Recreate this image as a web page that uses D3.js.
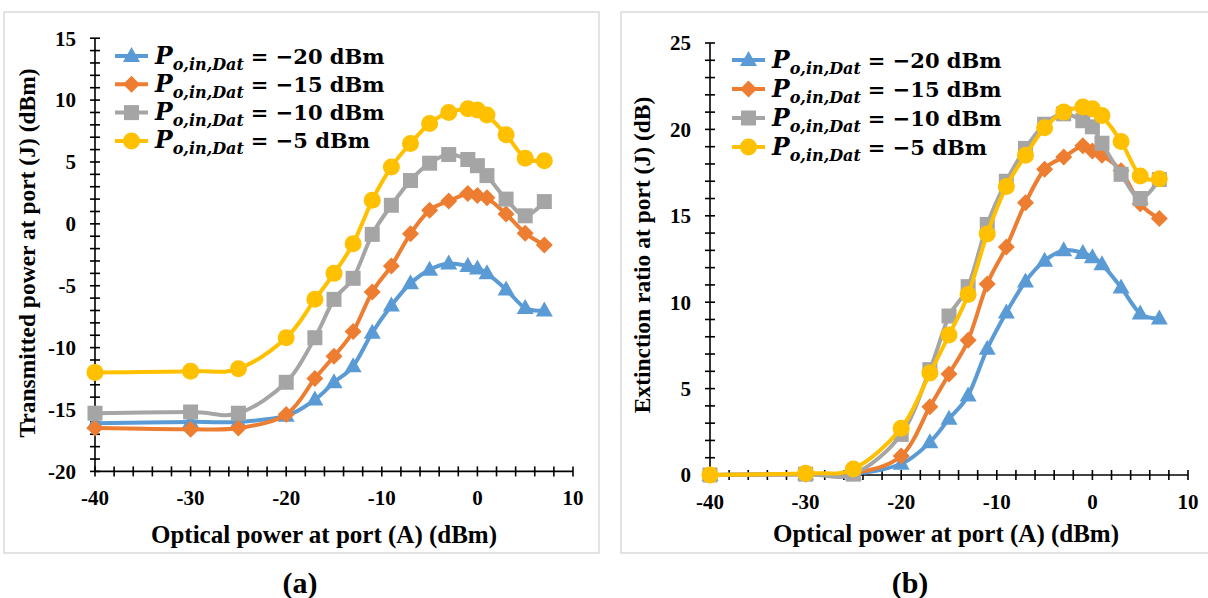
<!DOCTYPE html>
<html>
<head>
<meta charset="utf-8">
<script src="https://cdn.jsdelivr.net/npm/d3@7"></script>
<style>
  html, body { margin: 0; padding: 0; background: #fff; }
  svg { display: block; }
  text { font-family: "Liberation Serif", "Times New Roman", serif; font-weight: bold; fill: #000; }
  text.leg { font-family: "DejaVu Serif", serif; }
</style>
</head>
<body>
<svg id="chart" width="1208" height="598"></svg>
<script>
// ---------- data ----------
const xValues = [-40, -30, -25, -20, -17, -15, -13, -11, -9, -7, -5, -3, -1, 0, 1, 3, 5, 7];
const seriesLabels = ["\u221220 dBm", "\u221215 dBm", "\u221210 dBm", "\u22125 dBm"];
const seriesColors = ["#5B9BD5", "#ED7D31", "#A5A5A5", "#FFC000"];
const seriesMarkers = ["triangle", "diamond", "square", "circle"];

// (a) Transmitted power at port (J) (dBm)
const powerM20 = [-16.1, -16.0, -16.0, -15.5, -14.2, -12.8, -11.5, -8.8, -6.6, -4.8, -3.7, -3.2, -3.4, -3.6, -4.0, -5.3, -6.8, -7.0];
const powerM15 = [-16.5, -16.6, -16.5, -15.4, -12.5, -10.7, -8.7, -5.5, -3.4, -0.8, 1.1, 1.85, 2.45, 2.3, 2.1, 0.8, -0.75, -1.7];
const powerM10 = [-15.3, -15.2, -15.3, -12.8, -9.2, -6.1, -4.4, -0.85, 1.5, 3.5, 4.9, 5.6, 5.2, 4.7, 3.9, 2.0, 0.65, 1.8];
const powerM5  = [-12.0, -11.9, -11.7, -9.2, -6.1, -4.0, -1.6, 1.9, 4.6, 6.5, 8.1, 9.0, 9.3, 9.2, 8.8, 7.2, 5.3, 5.1];

// (b) Extinction ratio at port (J) (dB)
const erM20 = [0.0, 0.05, 0.05, 0.65, 1.9, 3.25, 4.6, 7.3, 9.4, 11.2, 12.4, 13.0, 12.85, 12.6, 12.2, 10.85, 9.35, 9.05];
const erM15 = [0.0, 0.05, 0.1, 1.1, 3.95, 5.85, 7.8, 11.05, 13.2, 15.75, 17.7, 18.4, 19.05, 18.75, 18.5, 17.6, 15.7, 14.85];
const erM10 = [0.0, 0.05, 0.05, 2.35, 6.1, 9.2, 10.9, 14.5, 17.0, 18.9, 20.3, 20.9, 20.5, 20.15, 19.2, 17.4, 16.0, 17.1];
const erM5  = [0.0, 0.1, 0.35, 2.7, 5.9, 8.1, 10.45, 13.95, 16.7, 18.5, 20.1, 21.0, 21.3, 21.2, 20.8, 19.3, 17.3, 17.15];

const xTicks = [-40, -30, -20, -10, 0, 10];
const yTicksA = [-20, -15, -10, -5, 0, 5, 10, 15];
const yTicksB = [0, 5, 10, 15, 20, 25];

const xTitle = "Optical power at port (A) (dBm)";
const yTitleA = "Transmitted power at port (J) (dBm)";
const yTitleB = "Extinction ratio at port (J) (dB)";

// ---------- drawing ----------
const svg = d3.select("#chart");

function markerPath(type) {
  const p = d3.path();
  if (type === "circle") { p.arc(0, 0, 8.5, 0, 2 * Math.PI); }
  else if (type === "square") { p.rect(-7.5, -7.5, 15, 15); }
  else if (type === "diamond") { p.moveTo(0, -8.5); p.lineTo(8.5, 0); p.lineTo(0, 8.5); p.lineTo(-8.5, 0); p.closePath(); }
  else { p.moveTo(0, -9); p.lineTo(8.5, 6); p.lineTo(-8.5, 6); p.closePath(); }
  return p.toString();
}

function drawPanel(cfg) {
  const g = svg.append("g");
  g.append("rect").attr("x", cfg.frame[0]).attr("y", cfg.frame[1])
    .attr("width", cfg.frame[2]).attr("height", cfg.frame[3])
    .attr("fill", "none").attr("stroke", "#d0d0d0").attr("stroke-width", 1.2);

  const x = d3.scaleLinear().domain([-40, 10]).range(cfg.xRange);
  const y = d3.scaleLinear().domain(cfg.yDomain).range(cfg.yRange);

  // x axis
  const xMinor = d3.range(-40, 10.01, 2);
  const xAxis = g.append("g").attr("transform", `translate(0,${y(cfg.yDomain[0])})`);
  xAxis.append("line").attr("x1", x(-40)).attr("x2", x(10)).attr("stroke", "#000").attr("stroke-width", 1.6);
  xAxis.selectAll("line.t").data(xMinor).join("line").attr("class", "t")
    .attr("x1", d => x(d)).attr("x2", d => x(d)).attr("y1", -5).attr("y2", 5)
    .attr("stroke", "#000").attr("stroke-width", 1.6);
  xAxis.selectAll("text").data(xTicks).join("text")
    .attr("x", d => x(d)).attr("y", cfg.xLabelDy).attr("text-anchor", "middle")
    .attr("font-size", 21).text(d => String(d));

  // y axis
  const yMinor = d3.range(cfg.yDomain[0], cfg.yDomain[1] + 0.01, 1);
  const yAxis = g.append("g").attr("transform", `translate(${x(-40)},0)`);
  yAxis.append("line").attr("y1", y(cfg.yDomain[0])).attr("y2", y(cfg.yDomain[1])).attr("stroke", "#000").attr("stroke-width", 1.6);
  yAxis.selectAll("line.t").data(yMinor).join("line").attr("class", "t")
    .attr("y1", d => y(d)).attr("y2", d => y(d)).attr("x1", -5).attr("x2", 5)
    .attr("stroke", "#000").attr("stroke-width", 1.6);
  yAxis.selectAll("text").data(cfg.yTicks).join("text")
    .attr("x", -19).attr("y", d => y(d)).attr("dy", "0.35em").attr("text-anchor", "end")
    .attr("font-size", 21).text(d => String(d));

  // titles
  g.append("text").attr("x", cfg.xTitlePos[0]).attr("y", cfg.xTitlePos[1])
    .attr("text-anchor", "middle").attr("font-size", 25).text(xTitle);
  g.append("text").attr("transform", `translate(${cfg.yTitlePos[0]},${cfg.yTitlePos[1]}) rotate(-90)`)
    .attr("text-anchor", "middle").attr("dy", "0.35em").attr("font-size", 23.5).text(cfg.yTitle);
  g.append("text").attr("x", cfg.panelLabel[0]).attr("y", cfg.panelLabel[1])
    .attr("text-anchor", "middle").attr("font-size", 30).text(cfg.panelText);

  // series
  const line = d3.line().x((d, i) => x(xValues[i])).y(d => y(d)).curve(d3.curveCardinal.tension(0));
  cfg.series.forEach((vals, si) => {
    const sg = g.append("g");
    sg.append("path").attr("d", line(vals)).attr("fill", "none")
      .attr("stroke", seriesColors[si]).attr("stroke-width", 4).attr("stroke-linejoin", "round");
    sg.selectAll("path.m").data(vals).join("path").attr("class", "m")
      .attr("d", markerPath(seriesMarkers[si]))
      .attr("transform", (d, i) => `translate(${x(xValues[i])},${y(d)})`)
      .attr("fill", seriesColors[si]);
  });

  // legend
  const lg = g.append("g");
  seriesLabels.forEach((lab, i) => {
    const cy = cfg.legend.y0 + i * cfg.legend.dy;
    const row = lg.append("g").attr("transform", `translate(${cfg.legend.x0},${cy})`);
    row.append("line").attr("x1", 0).attr("x2", 33).attr("stroke", seriesColors[i]).attr("stroke-width", 4);
    row.append("path").attr("d", markerPath(seriesMarkers[i])).attr("transform", "translate(16.5,0)").attr("fill", seriesColors[i]);
    const t = row.append("text").attr("class", "leg").attr("x", 40).attr("y", 7.5).attr("font-size", 21);
    t.append("tspan").attr("font-style", "italic").attr("font-size", 23.5).text("P");
    t.append("tspan").attr("font-style", "italic").attr("font-size", 16).attr("dy", 6).text("o,in,Dat");
    t.append("tspan").attr("dy", -6).attr("dx", 7).text("= " + lab);
  });
}

drawPanel({
  frame: [4, 12, 595, 541],
  xRange: [95, 573], yDomain: [-20, 15], yRange: [471.4, 38.2], yTicks: yTicksA,
  xLabelDy: 34, xTitlePos: [324, 543], yTitlePos: [27, 253], yTitle: yTitleA,
  panelLabel: [300, 593], panelText: "(a)",
  series: [powerM20, powerM15, powerM10, powerM5],
  legend: { x0: 115, y0: 56, dy: 28.3 }
});

drawPanel({
  frame: [621, 12, 600, 541],
  xRange: [710, 1188], yDomain: [0, 25], yRange: [475, 43], yTicks: yTicksB,
  xLabelDy: 34, xTitlePos: [946, 542], yTitlePos: [642, 255], yTitle: yTitleB,
  panelLabel: [910, 593], panelText: "(b)",
  series: [erM20, erM15, erM10, erM5],
  legend: { x0: 732, y0: 60, dy: 29 }
});
</script>
</body>
</html>
